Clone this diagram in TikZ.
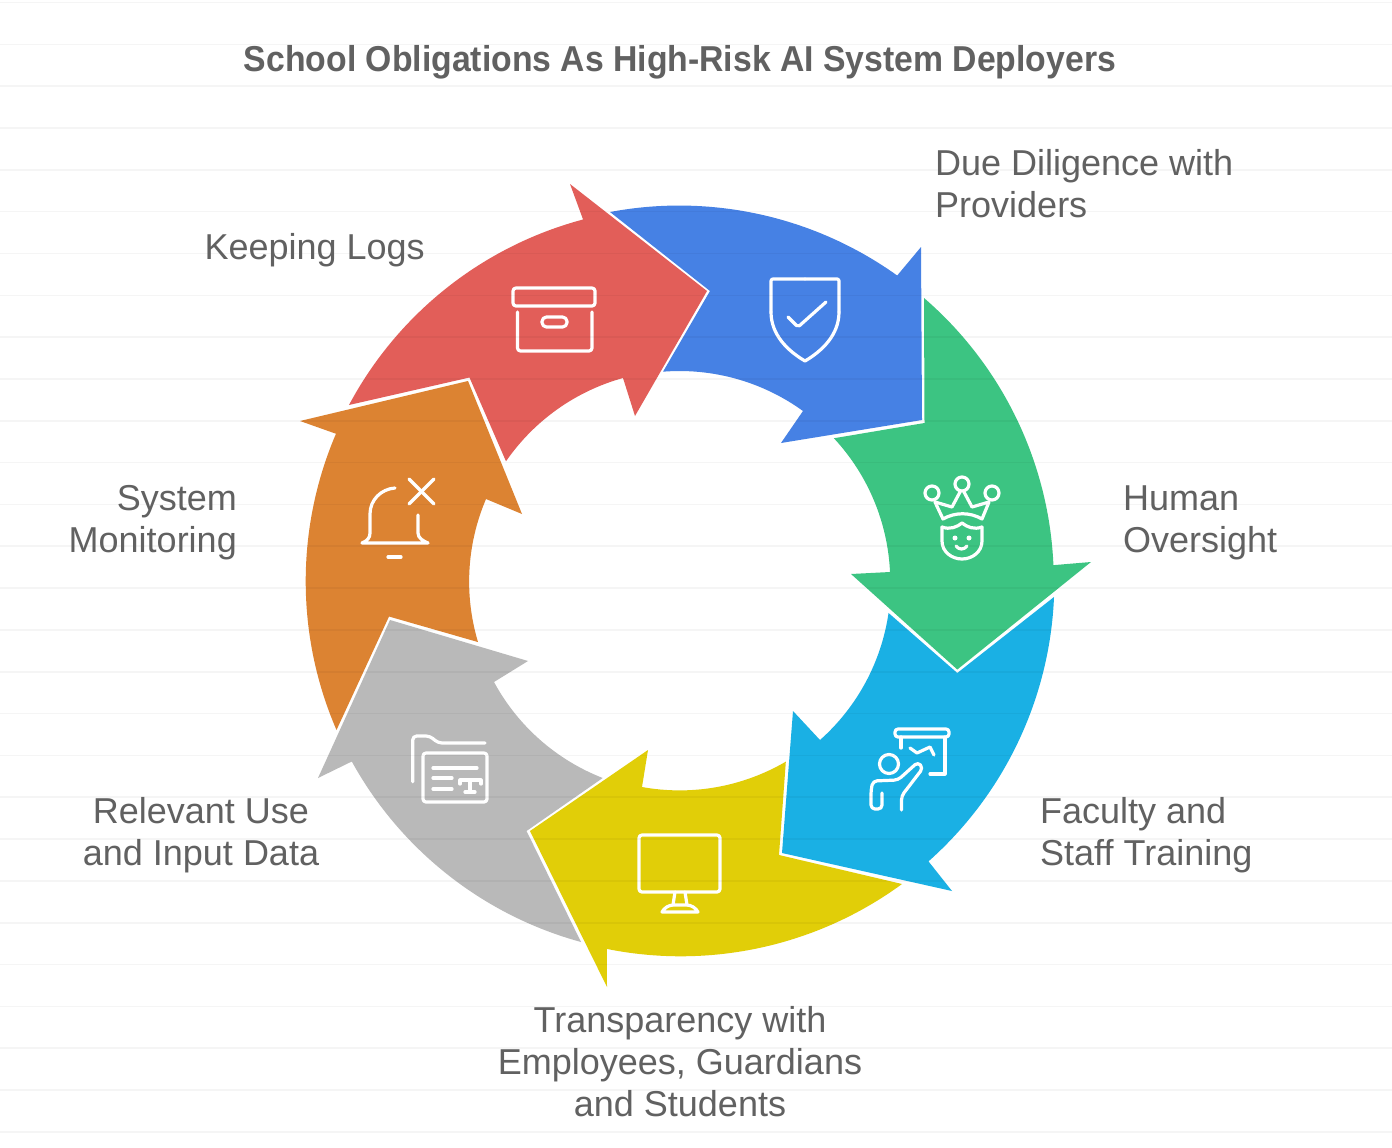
\documentclass[tikz,border=0pt]{standalone}
\usepackage{fontspec}
\setmainfont{Liberation Sans}

\definecolor{logsred}{HTML}{E25E59}
\definecolor{diligenceblue}{HTML}{4681E4}
\definecolor{oversightgreen}{HTML}{3CC482}
\definecolor{trainingblue}{HTML}{1AB0E4}
\definecolor{transparencyyellow}{HTML}{E1CE08}
\definecolor{inputgray}{HTML}{B9B9B9}
\definecolor{monitoringorange}{HTML}{DC8332}
\definecolor{labelgray}{HTML}{616161}

\tikzset{
    icon/.style={draw=white, line width=3.2pt, line cap=round, line join=round},
    lbl/.style={text=labelgray, inner sep=0pt, font=\fontsize{36}{42}\selectfont},
}

\begin{document}
\begin{tikzpicture}[x=1pt, y=-1pt]
    \useasboundingbox (0,0) rectangle (1392,1148);
    \fill[white] (0,0) rectangle (1392,1148);

    \fill[diligenceblue] (610,212) arc[start angle=-100.65, end angle=-54.4, radius=374.5]
        -- (921,247) -- (922,420) -- (781,443) -- (803,411)
        arc[start angle=-54.1, end angle=-94.5, radius=210.5] -- (710,291) -- cycle;
    \fill[logsred] (349,405) arc[start angle=-151.9, end angle=-104.9, radius=374.5]
        -- (570,184) -- (707,291) -- (635,416) -- (623,378)
        arc[start angle=-105.5, end angle=-145.4, radius=210.5] -- (469.5,377.5) -- cycle;
    \fill[monitoringorange] (336.5,730) arc[start angle=156.6, end angle=203.2, radius=374.5]
        -- (300,421) -- (468,381) -- (522,514) -- (486,499)
        arc[start angle=203.1, end angle=163.3, radius=210.5] -- (389,616.5) -- cycle;
    \fill[inputgray] (390,620) -- (528,661) -- (494,682)
        arc[start angle=151.6, end angle=111.3, radius=210.5] -- (526.5,831) -- (581,942)
        arc[start angle=105.3, end angle=151.15, radius=374.5] -- (318,778) -- cycle;
    \fill[transparencyyellow] (530,831) -- (648,750) -- (642,787)
        arc[start angle=100.3, end angle=59.7, radius=210.5] -- (779,855) -- (902,884)
        arc[start angle=53.8, end angle=101.4, radius=374.5] -- (607,987) -- cycle;
    \fill[trainingblue] (782,853) -- (793,711) -- (820,740)
        arc[start angle=48.4, end angle=8.3, radius=210.5] -- (957.3,673) -- (1054,597)
        arc[start angle=2.4, end angle=48.4, radius=374.5] -- (952,891) -- cycle;
    \fill[oversightgreen] (957.3,669.5) -- (851,574) -- (890,572)
        arc[start angle=-2.6, end angle=-42.9, radius=210.5] -- (924.5,423) -- (924,298)
        arc[start angle=-49.2, end angle=-2.5, radius=374.5] -- (1091,562) -- cycle;

    % archive box
    \draw[icon, rounded corners=3pt] (513,288) rectangle (595,306);
    \draw[icon, rounded corners=3pt] (517.5,312) -- (517.5,351) -- (592,351) -- (592,312);
    \draw[icon, rounded corners=4.5pt] (542,317) rectangle (567,327);

    % bell
    \draw[icon] (395,488) .. controls (381,489) and (370,500) .. (370,514) -- (370,533)
        .. controls (370,538) and (367,541) .. (362,543) -- (428,543)
        .. controls (423,541) and (418,538) .. (418,533) -- (418,515);
    \draw[icon] (388,557) -- (401,557);
    \draw[icon] (409,479) -- (434,504);
    \draw[icon] (434,479) -- (409,504);

    % shield
    \draw[icon, rounded corners=2pt] (805,279) -- (771,279) -- (771,312);
    \draw[icon] (771,312) .. controls (771,335) and (788,351) .. (805,361)
        .. controls (822,351) and (839,335) .. (839,312);
    \draw[icon, rounded corners=2pt] (839,312) -- (839,279) -- (805,279);
    \draw[icon, rounded corners=2pt] (788,317) -- (798,327) -- (826,302);

    % crown
    \draw[icon] (932,493) circle (7);
    \draw[icon] (962,484) circle (7);
    \draw[icon] (992,493) circle (7);
    \draw[icon] (935,502) -- (943,519) .. controls (955,512) and (970,512) .. (982,519) -- (989,502)
        -- (972,507) -- (964,492);
    \draw[icon] (935,502) -- (952,507) -- (960,492);
    \draw[icon] (942,527) -- (942,541) .. controls (942,552) and (952,559) .. (962,559)
        .. controls (972,559) and (982,552) .. (982,541) -- (982,527);
    \draw[icon] (942,527) .. controls (950,530) and (957,527) .. (962,523)
        .. controls (967,527) and (974,530) .. (982,527);
    \fill[white] (955,538) circle (2.5);
    \fill[white] (969,538) circle (2.5);
    \draw[icon] (956,546) .. controls (959,550) and (964,550) .. (967,546);

    % presenter
    \draw[icon, rounded corners=3pt] (895,729) rectangle (949,737);
    \draw[icon] (901,737) -- (901,748);
    \draw[icon] (945,737) -- (945,774) -- (930,774);
    \draw[icon] (910,748) -- (917,753) -- (930,747) -- (934,755);
    \draw[icon] (889,764) circle (9.5);
    \draw[icon, rounded corners=4pt] (901.5,810) -- (901.5,796) -- (923,768) -- (918,762) -- (898,780)
        -- (873,781) -- (871,790) -- (871,809) -- (882,809) -- (882,793);

    % monitor
    \draw[icon, rounded corners=3pt] (639,835) rectangle (720,892);
    \draw[icon] (675,892) -- (673,905);
    \draw[icon] (685,892) -- (687,905);
    \draw[icon] (662,912) .. controls (664,908) and (669,905) .. (673,905) -- (687,905)
        .. controls (691,905) and (696,908) .. (698,912) -- cycle;

    % folder
    \draw[icon, rounded corners=4pt] (412.7,781.7) -- (412.7,736) -- (430,736) -- (438,743) -- (485,743);
    \draw[icon, rounded corners=3pt] (423,753) rectangle (487,802);
    \draw[icon] (433,768) -- (477,768);
    \draw[icon] (433,778) -- (452,778);
    \draw[icon] (433,789) -- (452,789);
    \draw[icon] (460,784) -- (460,780) -- (481,780) -- (481,784);
    \draw[icon] (470,780) -- (470,792);
    \draw[icon] (465,792) -- (475,792);

    % rule lines of the page
    \foreach \ypos in {0,...,27} {
        \draw[black, opacity=0.04, line width=1.6pt] (0,2.5+41.83*\ypos) -- (1392,2.5+41.83*\ypos);
    }

    \node[lbl, font=\fontsize{36}{42}\selectfont\bfseries, xscale=0.9375, transform shape] (title) at (680,62) {School Obligations As High-Risk AI System Deployers};
    \node[lbl, anchor=west, align=left] (diligence) at (935,184) {Due Diligence with\\Providers};
    \node[lbl, anchor=west, align=left] (oversight) at (1123,522.5) {Human\\Oversight};
    \node[lbl, anchor=west, align=left] (training) at (1040,835.5) {Faculty and\\Staff Training};
    \node[lbl, align=center] (transparency) at (680,1062) {Transparency with\\Employees, Guardians\\and Students};
    \node[lbl, align=center] (input) at (201,835.5) {Relevant Use\\and Input Data};
    \node[lbl, anchor=east, align=right] (monitoring) at (237,522.5) {System\\Monitoring};
    \node[lbl, anchor=east] (logs) at (425,250) {Keeping Logs};
\end{tikzpicture}
\end{document}
